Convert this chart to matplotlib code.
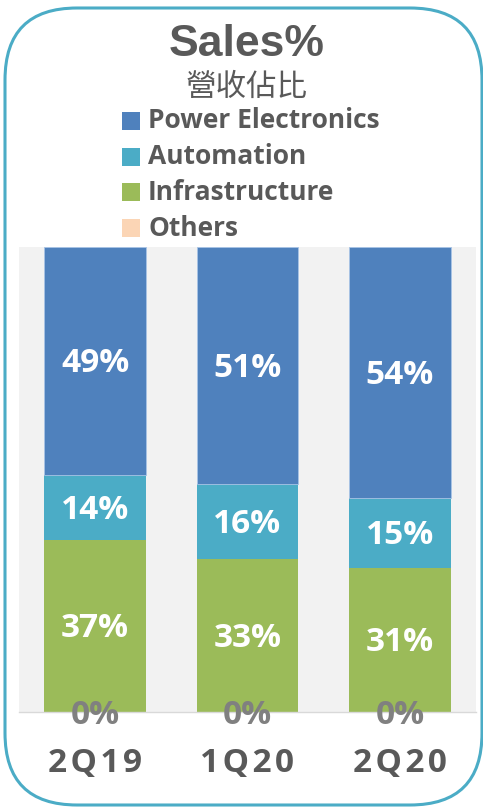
import matplotlib
matplotlib.use("Agg")
import matplotlib.pyplot as plt
from matplotlib.patches import FancyBboxPatch, Rectangle
from matplotlib.transforms import offset_copy
import numpy as np

categories = ["2Q19", "1Q20", "2Q20"]
series_names = ["Power Electronics", "Automation", "Infrastructure", "Others"]
others = [0, 0, 0]
infrastructure = [37, 33, 31]
automation = [14, 16, 15]
power_electronics = [49, 51, 54]

colors = {"Power Electronics": "#4f81bd", "Automation": "#4bacc6",
          "Infrastructure": "#9bbb59", "Others": "#fbd5b5"}

W, H = 483, 807
fig = plt.figure(figsize=(W / 100, H / 100), dpi=100)

bg = fig.add_axes([0, 0, 1, 1])
bg.set_xlim(0, W)
bg.set_ylim(H, 0)
bg.axis("off")
frame = FancyBboxPatch((5, 8), 477, 797, boxstyle="round,pad=0,rounding_size=72",
                       fc="white", ec="#4bacc6", lw=2.2)
bg.add_patch(frame)

bold = ["Open Sans", "DejaVu Sans"]
bg.text(247, 44, "Sales%", ha="center", va="center", fontsize=32,
        fontweight="bold", family=["Liberation Sans"], color="#595959")
bg.text(247, 87, "營收佔比", ha="center", va="center", fontsize=22,
        fontweight="light", family=["Noto Sans CJK TC", "DejaVu Sans"], color="#595959")

legend_y = [121, 157, 192, 228]
for name, yy in zip(series_names, legend_y):
    bg.add_patch(Rectangle((122, yy - 9), 18, 18, fc=colors[name], ec="none"))
    bg.text(148, yy, name, ha="left", va="center", fontsize=19,
            fontweight="bold", family=bold, color="#595959")

left, right, top, bottom = 19, 476, 247, 712
ax = fig.add_axes([left / W, (H - bottom) / H, (right - left) / W, (bottom - top) / H])
ax.set_facecolor("#f2f2f2")
x = np.arange(len(categories))
width = 0.667
stack = [("Others", others), ("Infrastructure", infrastructure),
         ("Automation", automation), ("Power Electronics", power_electronics)]
lab_tr = offset_copy(ax.transData, fig=fig, x=0, y=-3, units="dots")
base = np.zeros(len(categories))
for name, vals in stack:
    vals = np.array(vals, dtype=float)
    ax.bar(x, vals, width, bottom=base, color=colors[name],
           edgecolor="#a9c4e6" if name == "Power Electronics" else "none", linewidth=0.6)
    for xi, b, v in zip(x, base, vals):
        if v > 0:
            ax.text(xi, b + v / 2, f"{v:.0f}%", ha="center", va="center",
                    fontsize=24, fontweight="bold", family=bold, color="white",
                    transform=lab_tr)
        else:
            ax.text(xi, b, f"{v:.0f}%", ha="center", va="center",
                    fontsize=24, fontweight="bold", family=bold, color="#808080",
                    clip_on=False, zorder=5, transform=lab_tr)
    base = base + vals

ax.set_xlim(-0.5, 2.5)
ax.set_ylim(0, 100)
for s in ["top", "left", "right"]:
    ax.spines[s].set_visible(False)
ax.spines["bottom"].set_color("#d9d9d9")
ax.spines["bottom"].set_linewidth(1)
ax.set_yticks([])
ax.set_xticks(x)
spaced = ["\u200a".join(c) for c in categories]
ax.set_xticklabels(spaced, fontsize=24, fontweight="bold", family=bold,
                   color="#595959")
ax.tick_params(axis="x", length=0, pad=25)

fig.savefig("out.png", dpi=100)
